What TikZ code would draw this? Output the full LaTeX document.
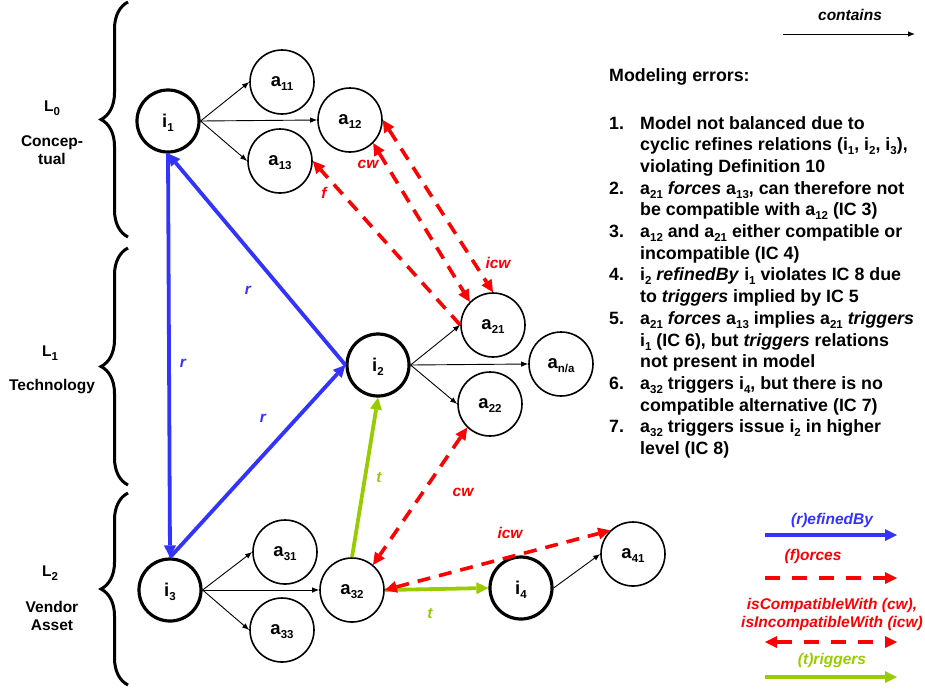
\documentclass[tikz,border=0pt]{standalone}
\usepackage{fontspec}
\setmainfont{Liberation Sans}
\usetikzlibrary{arrows.meta,decorations.pathreplacing}
\newcommand\mysub[1]{\raisebox{-4pt}[0pt][0pt]{\fontsize{11.5}{12}\selectfont #1}}
\definecolor{refblue}{RGB}{51,51,255}
\definecolor{trigreen}{RGB}{153,204,0}
\definecolor{forcered}{RGB}{255,0,0}
\begin{document}
\begin{tikzpicture}[x=1pt,y=-1pt,
  every node/.style={font=\bfseries\fontsize{18.5}{21}\selectfont},
  issue/.style={circle,draw,line width=3.2pt,minimum size=62pt,inner sep=0pt},
  alt/.style={circle,draw,line width=1.6pt,minimum size=64pt,inner sep=0pt},
  contains/.style={line width=0.9pt,-{Latex[length=7pt,width=5.5pt]}},
  tip/.style={},
  refine/.style={draw=refblue,line width=3.8pt,-{Triangle[length=12pt,width=12pt,line width=0pt]}},
  trig/.style={draw=trigreen,line width=3.8pt,-{Triangle[length=12pt,width=12pt,line width=0pt]}},
  force/.style={draw=forcered,line width=3.6pt,dash pattern=on 13pt off 9pt,-{Triangle[length=12pt,width=12pt,line width=0pt]}},
  compat/.style={draw=forcered,line width=3.6pt,dash pattern=on 13pt off 9pt,{Triangle[length=12pt,width=12pt,line width=0pt]}-{Triangle[length=12pt,width=12pt,line width=0pt]}},
  lvl/.style={decorate,decoration={brace,amplitude=27pt},line width=3pt},
  elab/.style={font=\bfseries\itshape\fontsize{15.5}{18}\selectfont},
  side/.style={align=center,font=\bfseries\fontsize{15.5}{18}\selectfont}
]
\useasboundingbox (0,0) rectangle (925,689);

% level braces
\draw[lvl] (128,237) -- (128,2);
\draw[lvl] (128,485) -- (128,248);
\draw[lvl] (128,685) -- (128,493);
\node[side] (l0) at (52,106) {L\mysub{0}};
\node[side] (c0) at (52,150) {Concep-\\tual};
\node[side] (l1) at (50,351) {L\mysub{1}};
\node[side] (c1) at (52,387) {Technology};
\node[side] (l2) at (50,571) {L\mysub{2}};
\node[side] (c2) at (52,616) {Vendor\\Asset};

% nodes
\node[issue] (i1) at (168,121) {i\mysub{1}};
\node[alt] (a11) at (282,82) {a\mysub{11}};
\node[alt] (a12) at (350,120) {a\mysub{12}};
\node[alt] (a13) at (280,161) {a\mysub{13}};
\node[issue] (i2) at (378,365) {i\mysub{2}};
\node[alt] (a21) at (493,325) {a\mysub{21}};
\node[alt] (ana) at (561,364) {a\mysub{n/a}};
\node[alt] (a22) at (490,404) {a\mysub{22}};
\node[issue] (i3) at (170,590) {i\mysub{3}};
\node[alt] (a31) at (285,552) {a\mysub{31}};
\node[alt] (a32) at (352,590) {a\mysub{32}};
\node[alt] (a33) at (282,630) {a\mysub{33}};
\node[issue] (i4) at (521,588) {i\mysub{4}};
\node[alt] (a41) at (633,554) {a\mysub{41}};

% contains
\draw[contains] (i1.east) -- (a11.west);
\draw[contains] (i1.east) -- (a12.west);
\draw[contains] (i1.east) -- (a13.west);
\draw[contains] (i2.east) -- (a21.west);
\draw[contains] (i2.east) -- (ana.west);
\draw[contains] (i2.east) -- (a22.west);
\draw[contains] (i3.east) -- (a31.west);
\draw[contains] (i3.east) -- (a32.west);
\draw[contains] (i3.east) -- (a33.west);
\draw[contains] (i4.east) -- (a41.west);

% refinedBy
\draw[refine] (i1.south) -- (i3.north);
\draw[refine] (i2.west) -- (i1.south);
\draw[refine] (i3.north) -- (i2.west);
\node[elab,text=refblue] (r1) at (248,290) {r};
\node[elab,text=refblue] (r2) at (183,363) {r};
\node[elab,text=refblue] (r3) at (263,418) {r};

% triggers
\draw[trig] (a32.north) -- (i2.south);
\draw[trig] (a32.east) -- (i4.west);
\node[elab,text=trigreen] (t1) at (379,477) {t};
\node[elab,text=trigreen] (t2) at (430,613) {t};

% forces / compatibility
\draw[force] (a21.west) -- (a13.east);
\draw[compat] (a12.-45) -- (a21.135);
\draw[compat] (a12.east) -- (a21.north);
\draw[compat] (a22.226) -- (a32.50);
\draw[compat] (a32.east) -- (a41.134);
\node[elab,text=forcered] (f1) at (324,193) {f};
\node[elab,text=forcered] (cw1) at (368,164) {cw};
\node[elab,text=forcered] (icw1) at (498,263) {icw};
\node[elab,text=forcered] (cw2) at (463,492) {cw};
\node[elab,text=forcered] (icw2) at (510,533) {icw};

% modeling errors
\node[anchor=west,inner sep=0pt,font=\bfseries\fontsize{17.8}{21.7}\selectfont] (head) at (609,77) {Modeling errors:};
\node[anchor=base west,inner sep=0pt,font=\bfseries\fontsize{17.8}{21.7}\selectfont] (list) at (609,129) {%
\begin{tabular}[t]{@{}p{31pt}@{}l@{}}
1. & Model not balanced due to\\
 & cyclic refines relations (i\mysub{1}, i\mysub{2}, i\mysub{3}),\\
 & violating Definition 10\\
2. & a\mysub{21} \textit{forces} a\mysub{13}, can therefore not\\
 & be compatible with a\mysub{12} (IC 3)\\
3. & a\mysub{12} and a\mysub{21} either compatible or\\
 & incompatible (IC 4)\\
4. & i\mysub{2} \textit{refinedBy} i\mysub{1} violates IC 8 due\\
 & to \textit{triggers} implied by IC 5\\
5. & a\mysub{21} \textit{forces} a\mysub{13} implies a\mysub{21} \textit{triggers}\\
 & i\mysub{1} (IC 6), but \textit{triggers} relations\\
 & not present in model\\
6. & a\mysub{32} triggers i\mysub{4}, but there is no\\
 & compatible alternative (IC 7)\\
7. & a\mysub{32} triggers issue i\mysub{2} in higher\\
 & level (IC 8)
\end{tabular}};

% legend
\node[elab] (lc) at (850,15) {contains};
\coordinate (lc1) at (783,34);
\coordinate (lc2) at (915,34);
\draw[contains] (lc1) -- (lc2);
\node[elab,text=refblue] (lr) at (832,520) {(r)efinedBy};
\coordinate (lr1) at (765,535);
\coordinate (lr2) at (897,535);
\draw[refine] (lr1) -- (lr2);
\node[elab,text=forcered] (lf) at (813,556) {(f)orces};
\coordinate (lf1) at (765,578);
\coordinate (lf2) at (897,578);
\draw[force,dash pattern=on 15pt off 12pt] (lf1) -- (lf2);
\node[elab,text=forcered,align=center] (lcw) at (832,614) {isCompatibleWith (cw),\\isIncompatibleWith (icw)};
\coordinate (lcw1) at (765,642);
\coordinate (lcw2) at (897,642);
\draw[compat,dash pattern=on 15pt off 12pt] (lcw1) -- (lcw2);
\node[elab,text=trigreen] (lt) at (832,660) {(t)riggers};
\coordinate (lt1) at (765,677);
\coordinate (lt2) at (897,677);
\draw[trig] (lt1) -- (lt2);
\end{tikzpicture}
\end{document}
